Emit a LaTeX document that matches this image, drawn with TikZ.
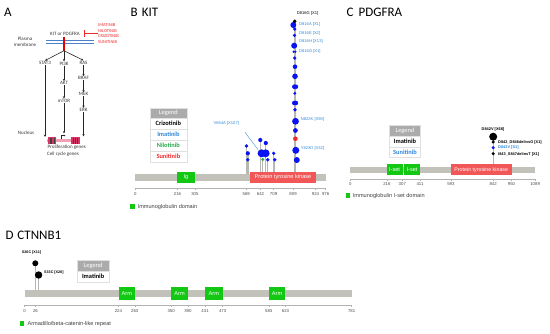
\documentclass[tikz,border=0pt]{standalone}
\usepackage{fontspec}
\setmainfont{Carlito}
\newfontfamily\arialf{Liberation Sans}
\usetikzlibrary{arrows.meta}
\definecolor{barg}{HTML}{C2C2BA}
\definecolor{domg}{HTML}{12C812}
\definecolor{ptk}{HTML}{F25757}
\definecolor{imab}{HTML}{2C86D8}
\definecolor{nilg}{HTML}{2AA84A}
\definecolor{sunr}{HTML}{F02828}
\definecolor{dotb}{HTML}{0A14F0}
\definecolor{leghdc}{HTML}{ABABAB}
\definecolor{stemg}{HTML}{B8B8B2}
\definecolor{memb}{HTML}{4A80D0}
\definecolor{generd}{HTML}{D83466}
\definecolor{genepk}{HTML}{F2A0B4}
\begin{document}
\begin{tikzpicture}[x=1pt,y=-1pt,
 ttl/.style={font=\fontsize{13}{14}\selectfont, inner sep=0pt, anchor=west},
 atx/.style={font=\fontsize{5}{6}\selectfont, text=black!80, inner sep=0.3pt},
 drug/.style={font=\fontsize{4.5}{5}\selectfont, text=sunr, inner sep=0pt, anchor=west},
 arr/.style={-{Stealth[length=2.4pt,width=2.2pt]}, line width=0.6pt, black!85},
 dom/.style={draw=none, inner sep=0pt, text=white, font=\arialf\fontsize{5.6}{6}\selectfont},
 tk/.style={font=\arialf\fontsize{4.3}{5}\selectfont, text=black!70, inner sep=0pt},
 mut/.style={font=\arialf\fontsize{4.1}{5}\selectfont, inner sep=0pt},
 leg/.style={draw=black!12, fill=white, inner sep=0pt, font=\bfseries\fontsize{6.4}{7}\selectfont},
 leghd/.style={leg, fill=leghdc, text=white, font=\fontsize{6.4}{7}\selectfont},
 keysq/.style={fill=domg, minimum size=4.5pt, inner sep=0pt},
 keytx/.style={font=\arialf\fontsize{5.6}{6}\selectfont, text=black!75, anchor=west, inner sep=0pt},
 stem/.style={stemg, line width=1.3pt},
 axl/.style={black!30, line width=0.4pt},
]
\useasboundingbox (0,0) rectangle (550,333);

% ================= Panel A =================
\node[ttl] (tA) at (4,12.7) {A};
\node[atx] (kitp) at (65,33.7) {KIT or PDGFRA};
\node[drug] (d1) at (98,24.7) {IMATINIB};
\node[drug] (d2) at (98,30.7) {NILOTINIB};
\node[drug] (d3) at (98,36.4) {CRIZOTINIB};
\node[drug] (d4) at (98,42.3) {SUNITINIB};
\coordinate (inhS) at (97.5,33.7);
\coordinate (inhE) at (84,33.7);
\draw[sunr, line width=0.8pt] (inhS) -- (inhE);
\draw[sunr, line width=0.8pt] (84,30.3) -- (84,37.1);
\node[atx, align=center, font=\fontsize{5}{6.4}\selectfont] (pm) at (25,41.5) {Plasma\\membrane};
\draw[memb, line width=0.7pt] (45.6,40.7) -- (94,40.7);
\draw[memb, line width=0.7pt] (45.6,43.4) -- (94,43.4);
\node[fill=red!90!black, minimum width=2pt, minimum height=13.5pt, inner sep=0pt] (rec) at (64,43.8) {};
\node[atx] (stat3) at (45,62.7) {STAT3};
\node[atx] (pi3k) at (64,63.5) {PI3K};
\node[atx] (ras) at (83.5,62.5) {RAS};
\node[atx] (akt) at (64,83.3) {AKT};
\node[atx] (mtor) at (64,100.7) {mTOR};
\node[atx] (braf) at (83.5,78.3) {BRAF};
\node[atx] (mek) at (83.5,94.3) {MEK};
\node[atx] (erk) at (83.5,110) {ERK};
\node[atx] (nuc) at (26,132.7) {Nucleus};
\draw[arr] (rec.south) -- (stat3.north);
\draw[arr] (rec.south) -- (pi3k.north);
\draw[arr] (rec.south) -- (ras.north);
\draw[arr] (pi3k.south) -- (akt.north);
\draw[arr] (akt.south) -- (mtor.north);
\draw[arr] (ras.south) -- (braf.north);
\draw[arr] (braf.south) -- (mek.north);
\draw[arr] (mek.south) -- (erk.north);
% gene
\fill[genepk] (47,139.3) rectangle (80,142.1);
\node[fill=generd, minimum width=8pt, minimum height=7pt, inner sep=0pt] (g1) at (52,140.7) {};
\node[fill=generd, minimum width=9pt, minimum height=7pt, inner sep=0pt] (g2) at (75.5,140.7) {};
\foreach \s in {49.8,51.4,53.8}{\draw[black!75, line width=0.35pt] (\s,137.6) -- (\s,143.8);}
\foreach \s in {73.3,75,77.6}{\draw[black!75, line width=0.35pt] (\s,137.6) -- (\s,143.8);}
\coordinate (gS) at (45,137);
\coordinate (gM) at (64,133.5);
\coordinate (gE) at (83.5,136.5);
\draw[arr] (stat3.south) -- (gS);
\draw[arr] (mtor.south) -- (gM);
\draw[arr] (erk.south) -- (gE);
\draw[black!85, line width=0.45pt, -{Stealth[length=1.5pt,width=1.5pt]}] (61,138.8) -- (61,135.6) -- (65.5,135.6);
\node[atx] (prol) at (66.7,147) {Proliferation genes};
\node[atx] (ccg) at (63,153.7) {Cell cycle genes};

% ================= Panel B =================
\node[ttl] (tB) at (130.5,12.7) {B\hspace{4pt}KIT};
% stems
\draw[stem] (246.5,174) -- (246.5,146);
\draw[stem] (248,174) -- (248,153.3);
\draw[stem] (260.3,174) -- (260.3,140);
\draw[stem] (262.7,174) -- (262.7,159.5);
\draw[stem] (265.8,174) -- (265.8,143);
\draw[stem] (267.7,174) -- (267.7,159.7);
\draw[stem] (273.7,174) -- (273.7,153.3);
\draw[stem] (274.7,174) -- (274.7,159.7);
\draw[stemg, line width=2.6pt] (295.1,174) -- (295.1,21.3);
% bar and domains
\fill[barg] (135.4,174) rectangle (325.6,180.7);
\node[dom, fill=domg, minimum width=17.7pt, minimum height=11.6pt] (igB) at (185.85,177.5) {Ig};
\node[dom, fill=ptk, minimum width=66pt, minimum height=11.6pt] (ptkB) at (283,177.5) {Protein tyrosine kinase};
% axis
\draw[axl] (135.4,188.5) -- (325.6,188.5);
\foreach \v in {0,216,305,569,642,709,809,924,976}{
  \draw[axl] ({135.4+\v*0.1949},188.5) -- ++(0,1.6);
  \node[tk] (tB\v) at ({135.4+\v*0.1949},194.4) {\v};}
% dots
\fill[dotb] (246.5,146) circle (1.9pt);
\fill[dotb] (247.8,153.3) circle (2.1pt);
\fill[dotb] (247.8,159.7) circle (1.9pt);
\fill[dotb] (260.3,140) circle (2.1pt);
\fill[dotb] (265.8,143) circle (2.1pt);
\fill[dotb] (261.6,153.3) circle (4pt);
\fill[dotb] (265.6,153.3) circle (4pt);
\fill[nilg] (262.7,159.5) circle (1.6pt);
\fill[dotb] (267.7,159.7) circle (1.9pt);
\fill[dotb] (273.7,153.3) circle (1.8pt);
\fill[dotb] (274.7,159.7) circle (1.9pt);
\fill[dotb] (293.3,25) circle (3pt);
\fill[black] (294.7,21.3) circle (1.9pt);
\fill[dotb] (294.7,29) circle (1.8pt);
\fill[dotb] (294.5,35.3) circle (1.8pt);
\fill[dotb] (294.2,45.7) circle (3pt);
\fill[dotb] (293.6,51.7) circle (1.3pt);
\fill[dotb] (295.4,51.7) circle (1.3pt);
\fill[dotb] (294.7,58) circle (1.8pt);
\fill[dotb] (295,66.7) circle (2.3pt);
\fill[dotb] (295,76.3) circle (2.8pt);
\fill[dotb] (294.3,86.7) circle (2.3pt);
\fill[dotb] (295.9,86.7) circle (2.3pt);
\fill[dotb] (294.8,93.3) circle (1.6pt);
\fill[dotb] (294.3,103) circle (2.3pt);
\fill[dotb] (295.9,103) circle (2.3pt);
\fill[dotb] (295,109.7) circle (1.8pt);
\fill[dotb] (295.5,121.3) circle (3.4pt);
\fill[dotb] (295.4,130.5) circle (2.4pt);
\fill[sunr] (295.4,138.7) circle (2.3pt);
\fill[dotb] (295.8,150.3) circle (3.5pt);
\fill[dotb] (296.8,160) circle (3pt);
% labels
\node[mut] (mB0) at (307.5,13.3) {D816G [X1]};
\node[mut, text=imab, anchor=west] (mB1) at (299,24.7) {D816A [X1]};
\node[mut, text=imab, anchor=west] (mB2) at (299,33.3) {D816E [X2]};
\node[mut, text=imab, anchor=west] (mB3) at (299,41.3) {D816H [X13]};
\node[mut, text=imab, anchor=west] (mB4) at (299,51) {D816G [X1]};
\node[mut, text=imab, anchor=west] (mB5) at (300.7,119.3) {N822K [X90]};
\node[mut, text=imab, anchor=west] (mB6) at (300.7,148) {Y823D [X32]};
\node[mut, text=imab] (mB7) at (226.3,123.7) {V654A [X107]};
\coordinate (vA) at (245,132.3);
\coordinate (vB) at (258.3,150);
\draw[imab, line width=0.35pt] (vA) -- (vB);
% legend
\node[leghd, minimum width=36.7pt, minimum height=10.6pt] (lB0) at (168.35,113) {Legend};
\node[leg, minimum width=36.7pt, minimum height=10.9pt] (lB1) at (168.35,123.75) {Crizotinib};
\node[leg, minimum width=36.7pt, minimum height=10.9pt, text=imab] (lB2) at (168.35,134.65) {Imatinib};
\node[leg, minimum width=36.7pt, minimum height=10.9pt, text=nilg] (lB3) at (168.35,145.55) {Nilotinib};
\node[leg, minimum width=36.7pt, minimum height=10.9pt, text=sunr] (lB4) at (168.35,156.45) {Sunitinib};
\node[keysq] (kB) at (132.6,206.7) {};
\node[keytx] (kBt) at (137.5,207) {Immunoglobulin domain};

% ================= Panel C =================
\node[ttl] (tC) at (346.5,12.7) {C\hspace{5pt}PDGFRA};
\draw[stem] (493.2,166.7) -- (493.2,136.7);
\fill[barg] (350.2,166.7) rectangle (535.1,172.7);
\node[dom, fill=domg, minimum width=15.8pt, minimum height=10.7pt] (is1) at (394.6,169.65) {I-set};
\node[dom, fill=domg, minimum width=15.8pt, minimum height=10.7pt] (is2) at (412.1,169.65) {I-set};
\node[dom, fill=ptk, minimum width=60.7pt, minimum height=10.7pt, font=\arialf\fontsize{5.3}{6}\selectfont] (ptkC) at (481.25,169.65) {Protein tyrosine kinase};
\draw[axl] (350.2,179.3) -- (535.1,179.3);
\foreach \v in {0,216,307,411,593,842,950,1089}{
  \draw[axl] ({350.2+\v*0.1698},179.3) -- ++(0,1.5);
  \node[tk] (tC\v) at ({350.2+\v*0.1698},184.4) {\v};}
\fill[black] (493.2,136.7) circle (4pt);
\fill[black] (493.2,142) circle (1.7pt);
\fill[dotb] (493.2,147.7) circle (1.7pt);
\fill[black] (493.2,153.7) circle (1.7pt);
\node[mut, font=\arialf\bfseries\fontsize{3.9}{5}\selectfont] (mC0) at (493,129) {D842V [X68]};
\node[mut, anchor=west, font=\arialf\bfseries\fontsize{3.9}{5}\selectfont] (mC1) at (498,142) {D842\_D846delinsG [X1]};
\node[mut, anchor=west, text=imab, font=\arialf\bfseries\fontsize{3.9}{5}\selectfont] (mC2) at (498,147.8) {D842V [X1]};
\node[mut, anchor=west, font=\arialf\bfseries\fontsize{3.9}{5}\selectfont] (mC3) at (498,154) {I843\_S847delinsT [X1]};
\node[leghd, minimum width=30.9pt, minimum height=11pt] (lC0) at (404.95,130.5) {Legend};
\node[leg, minimum width=30.9pt, minimum height=10.7pt] (lC1) at (404.95,141.35) {Imatinib};
\node[leg, minimum width=30.9pt, minimum height=10.7pt, text=imab] (lC2) at (404.95,152.05) {Sunitinib};
\node[keysq] (kC) at (348,195.7) {};
\node[keytx] (kCt) at (352.6,196) {Immunoglobulin I-set domain};

% ================= Panel D =================
\node[ttl] (tD) at (5.3,235) {D\hspace{4pt}CTNNB1};
\draw[stem] (35.3,290) -- (35.3,263.3);
\draw[stem] (38.6,290) -- (38.6,275);
\fill[barg] (24.6,290) rectangle (351.6,297.3);
\node[dom, fill=domg, minimum width=16.5pt, minimum height=12.7pt] (arm1) at (126.85,293.65) {Arm};
\node[dom, fill=domg, minimum width=16.7pt, minimum height=12.7pt] (arm2) at (179.55,293.65) {Arm};
\node[dom, fill=domg, minimum width=17.5pt, minimum height=12.7pt] (arm3) at (213.85,293.65) {Arm};
\node[dom, fill=domg, minimum width=16.7pt, minimum height=12.7pt] (arm4) at (277.05,293.65) {Arm};
\draw[axl] (24.6,305) -- (351.6,305);
\foreach \v in {0,26,224,263,350,390,431,473,583,623,781}{
  \draw[axl] ({24.6+\v*0.4187},305) -- ++(0,1.5);
  \node[tk] (tD\v) at ({24.6+\v*0.4187},311.3) {\v};}
\fill[black] (35.3,263.3) circle (3pt);
\fill[black] (38.6,275) circle (3.7pt);
\node[mut, font=\arialf\bfseries\fontsize{3.7}{5}\selectfont] (mD1) at (31.5,252.3) {S26C [X11]};
\node[mut, anchor=west, font=\arialf\bfseries\fontsize{3.7}{5}\selectfont] (mD2) at (44,273) {S33C [X28]};
\node[leghd, minimum width=31.8pt, minimum height=10.7pt] (lD0) at (93.1,265.35) {Legend};
\node[leg, minimum width=31.8pt, minimum height=11pt] (lD1) at (93.1,276.2) {Imatinib};
\node[keysq] (kD) at (22,323.3) {};
\node[keytx] (kDt) at (27.4,323.6) {Armadillo/beta-catenin-like repeat};
\end{tikzpicture}
\end{document}
